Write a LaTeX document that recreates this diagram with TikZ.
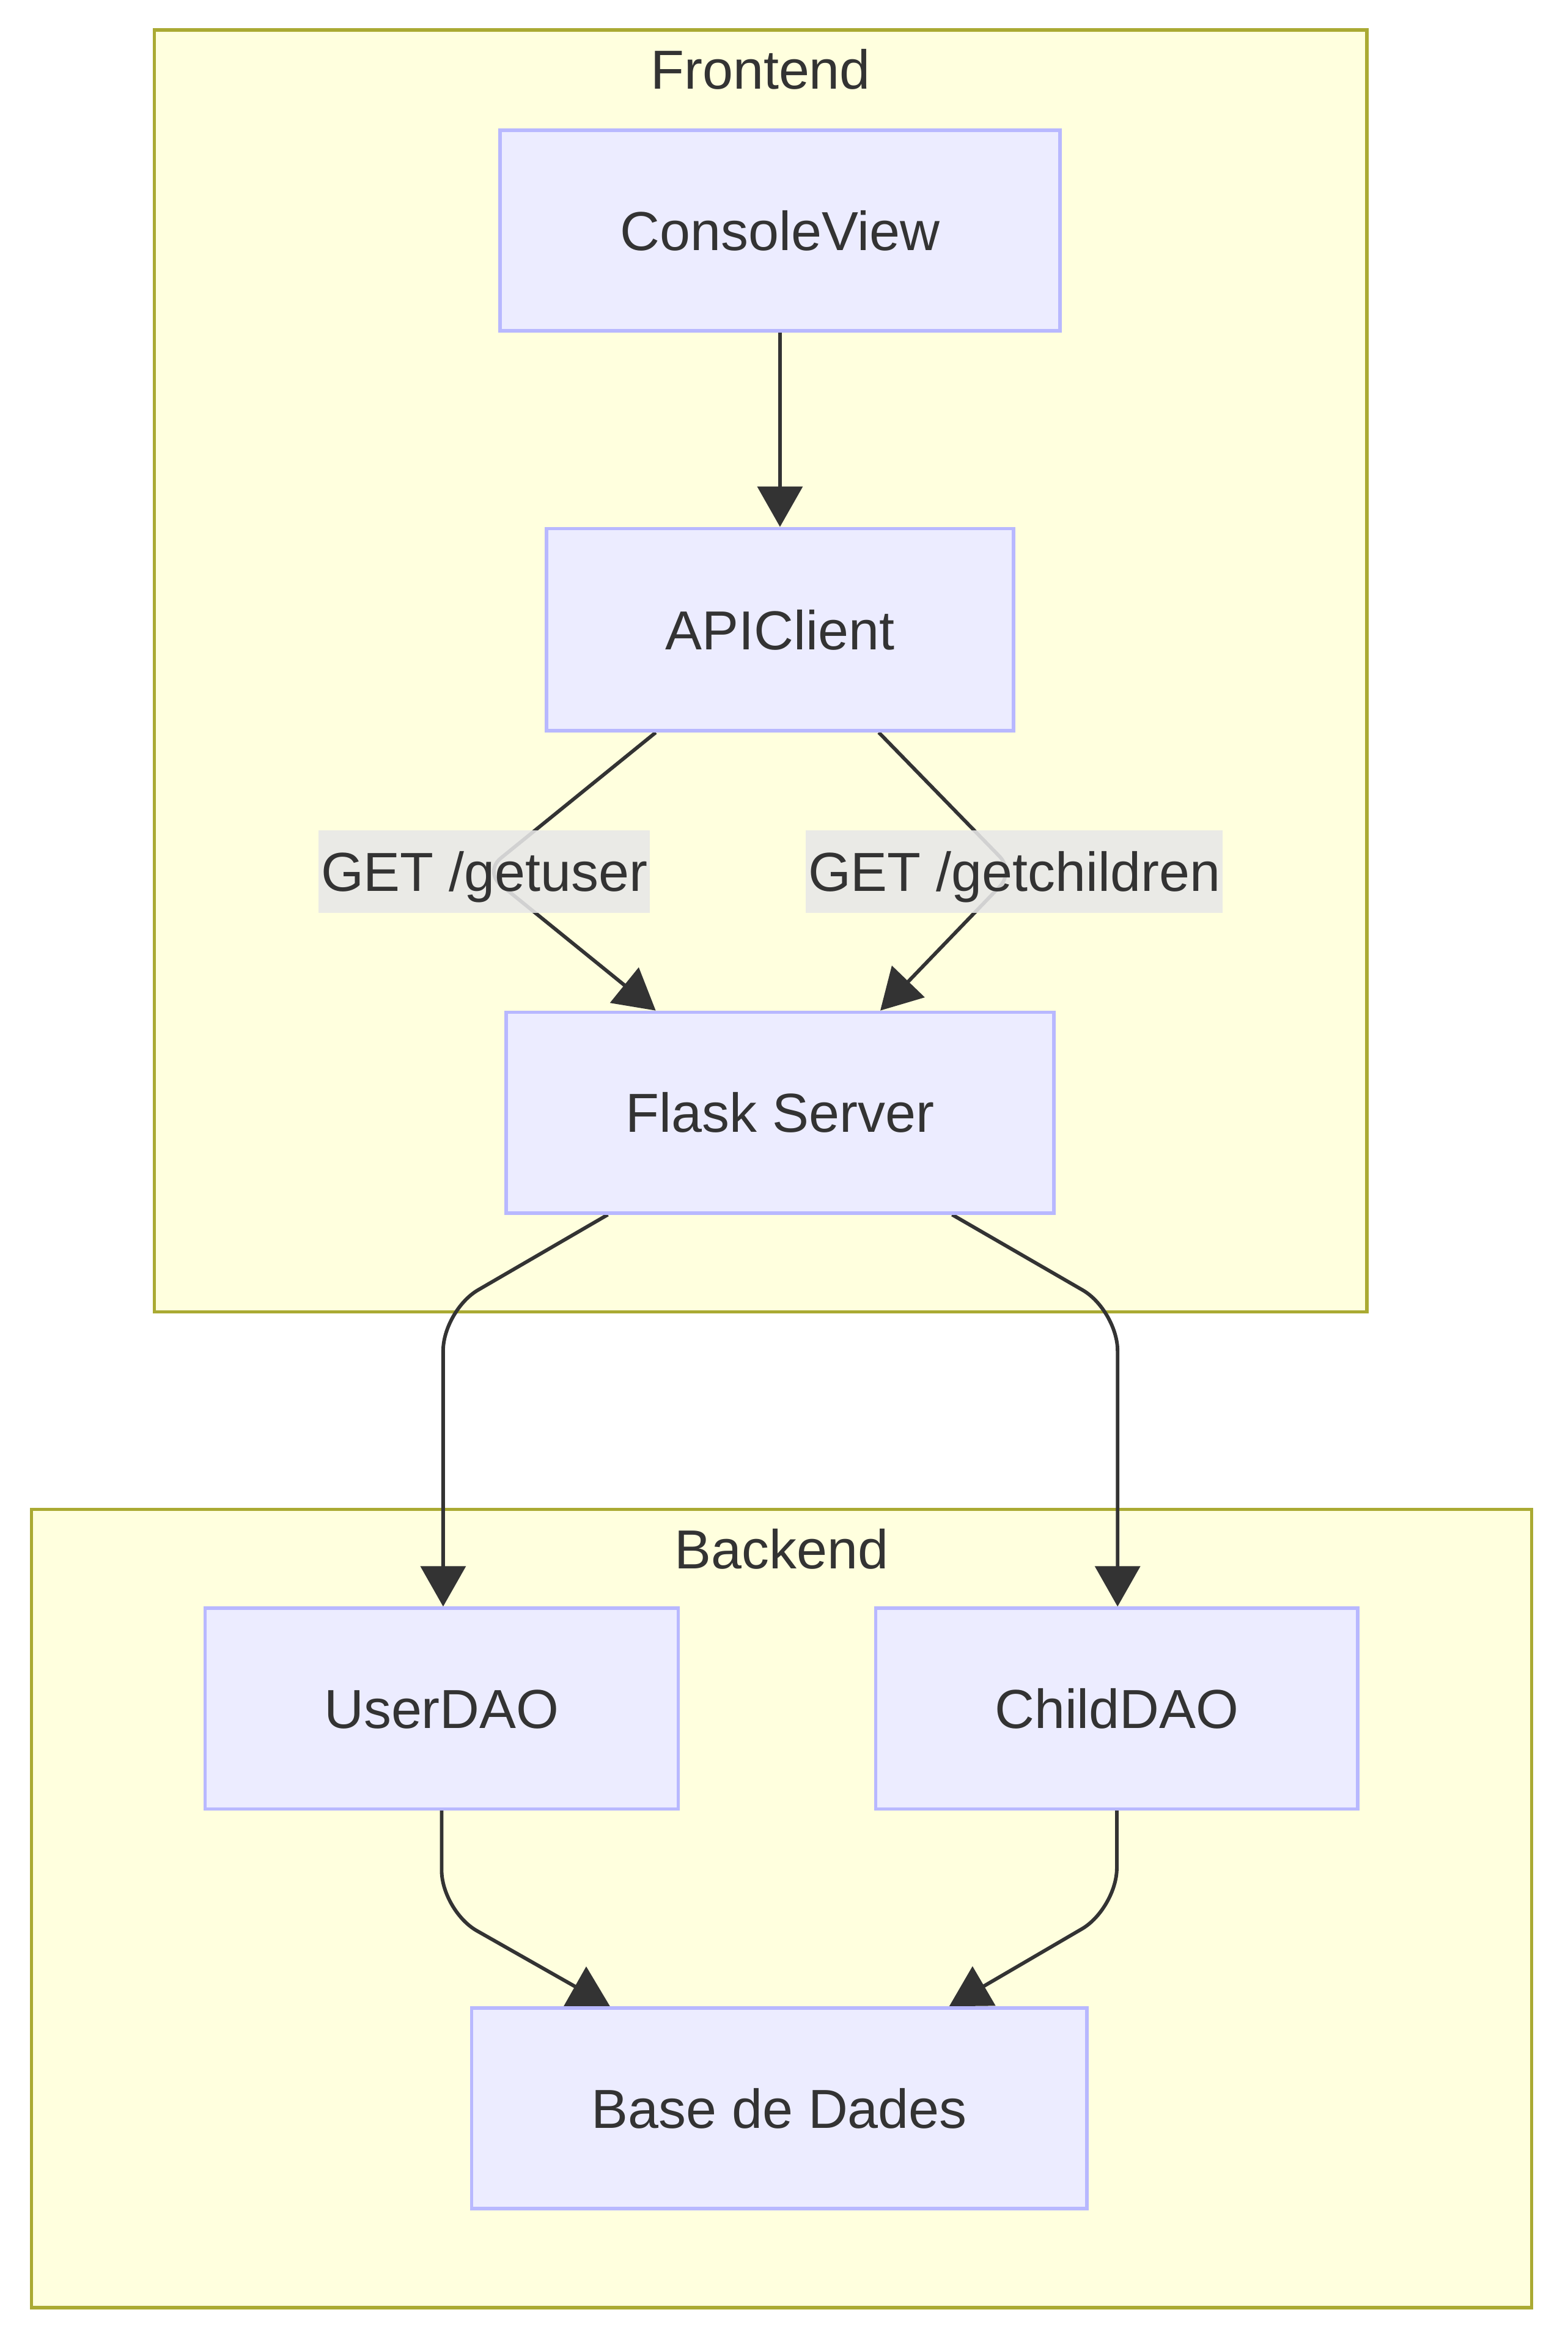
\documentclass[tikz,border=0pt]{standalone}
\usepackage{fontspec}
\setmainfont{Liberation Sans}
\usetikzlibrary{arrows.meta,calc}
\definecolor{nodefill}{HTML}{ECECFF}
\definecolor{nodeline}{HTML}{B8B8FF}
\definecolor{clfill}{HTML}{FFFFDE}
\definecolor{clline}{HTML}{AAAA33}
\definecolor{ink}{HTML}{333333}
\definecolor{lblbg}{HTML}{E8E8E8}
\pgfdeclarelayer{bg}
\pgfdeclarelayer{edges}
\pgfsetlayers{bg,edges,main}
\tikzset{
  txt/.style={font=\fontsize{36.7}{44}\selectfont, text=ink},
  box/.style={txt, draw=nodeline, fill=nodefill, line width=2.3pt, rectangle, inner sep=0pt,
    text height=26.3pt, text depth=0pt, minimum height=134pt},
  cluster/.style={draw=clline, fill=clfill, line width=2.2pt, rectangle, inner sep=0pt},
  ctitle/.style={txt, inner sep=0pt, anchor=base},
  elabel/.style={txt, fill=lblbg, fill opacity=0.88, text opacity=1, inner xsep=1.5pt,
    inner ysep=14.4pt, text height=26.3pt, text depth=0pt},
  edge/.style={draw=ink, line width=2.4pt, -{Triangle[length=27pt,width=30pt]}},
}
\begin{document}
\begin{tikzpicture}[x=1pt,y=-1pt]
\useasboundingbox (0,0) rectangle (1047,1568);

\begin{pgfonlayer}{bg}
  \fill[white] (0,0) rectangle (1047,1568);
  \node[cluster, minimum width=810pt, minimum height=856pt] (frontend) at (508,448) {};
  \node[cluster, minimum width=1002pt, minimum height=533pt] (backend) at (522,1274.5) {};
\end{pgfonlayer}
\node[ctitle] (ftitle) at (508,59.5) {Frontend};
\node[ctitle] (btitle) at (522,1047.5) {Backend};

\node[box, minimum width=374pt] (console) at (521,154) {ConsoleView};
\node[box, minimum width=312pt, minimum height=135pt] (api) at (521,420.5) {APIClient};
\node[box, minimum width=366pt] (flask) at (521,743) {Flask Server};
\node[box, minimum width=316pt] (userdao) at (295,1141) {UserDAO};
\node[box, minimum width=322pt] (childdao) at (746,1141) {ChildDAO};
\node[box, minimum width=411pt] (base) at (520.5,1408) {Base de Dades};

\node[elabel] (l1) at (323.5,582) {GET /getuser};
\node[elabel] (l2) at (677.5,582) {GET /getchildren};

\begin{pgfonlayer}{edges}
  \draw[edge] (console.south) -- (api.north);
  \draw[edge, rounded corners=14pt] ([xshift=-83pt]api.south) -- (l1.center) -- ([xshift=-83pt]flask.north);
  \draw[edge, rounded corners=14pt] ([xshift=66pt]api.south) -- (l2.center) -- ([xshift=67pt]flask.north);
  \draw[edge, rounded corners=27pt] ([xshift=-115pt]flask.south) -- (296,875) -- ([xshift=1pt]userdao.north);
  \draw[edge, rounded corners=27pt] ([xshift=115pt]flask.south) -- (746.5,875) -- ([xshift=0.5pt]childdao.north);
  \draw[edge, rounded corners=27pt] (userdao.south) -- (295,1276) -- ([xshift=-113pt]base.north);
  \draw[edge, rounded corners=27pt] (childdao.south) -- (746,1274.5) -- ([xshift=113.5pt]base.north);
\end{pgfonlayer}
\end{tikzpicture}
\end{document}
